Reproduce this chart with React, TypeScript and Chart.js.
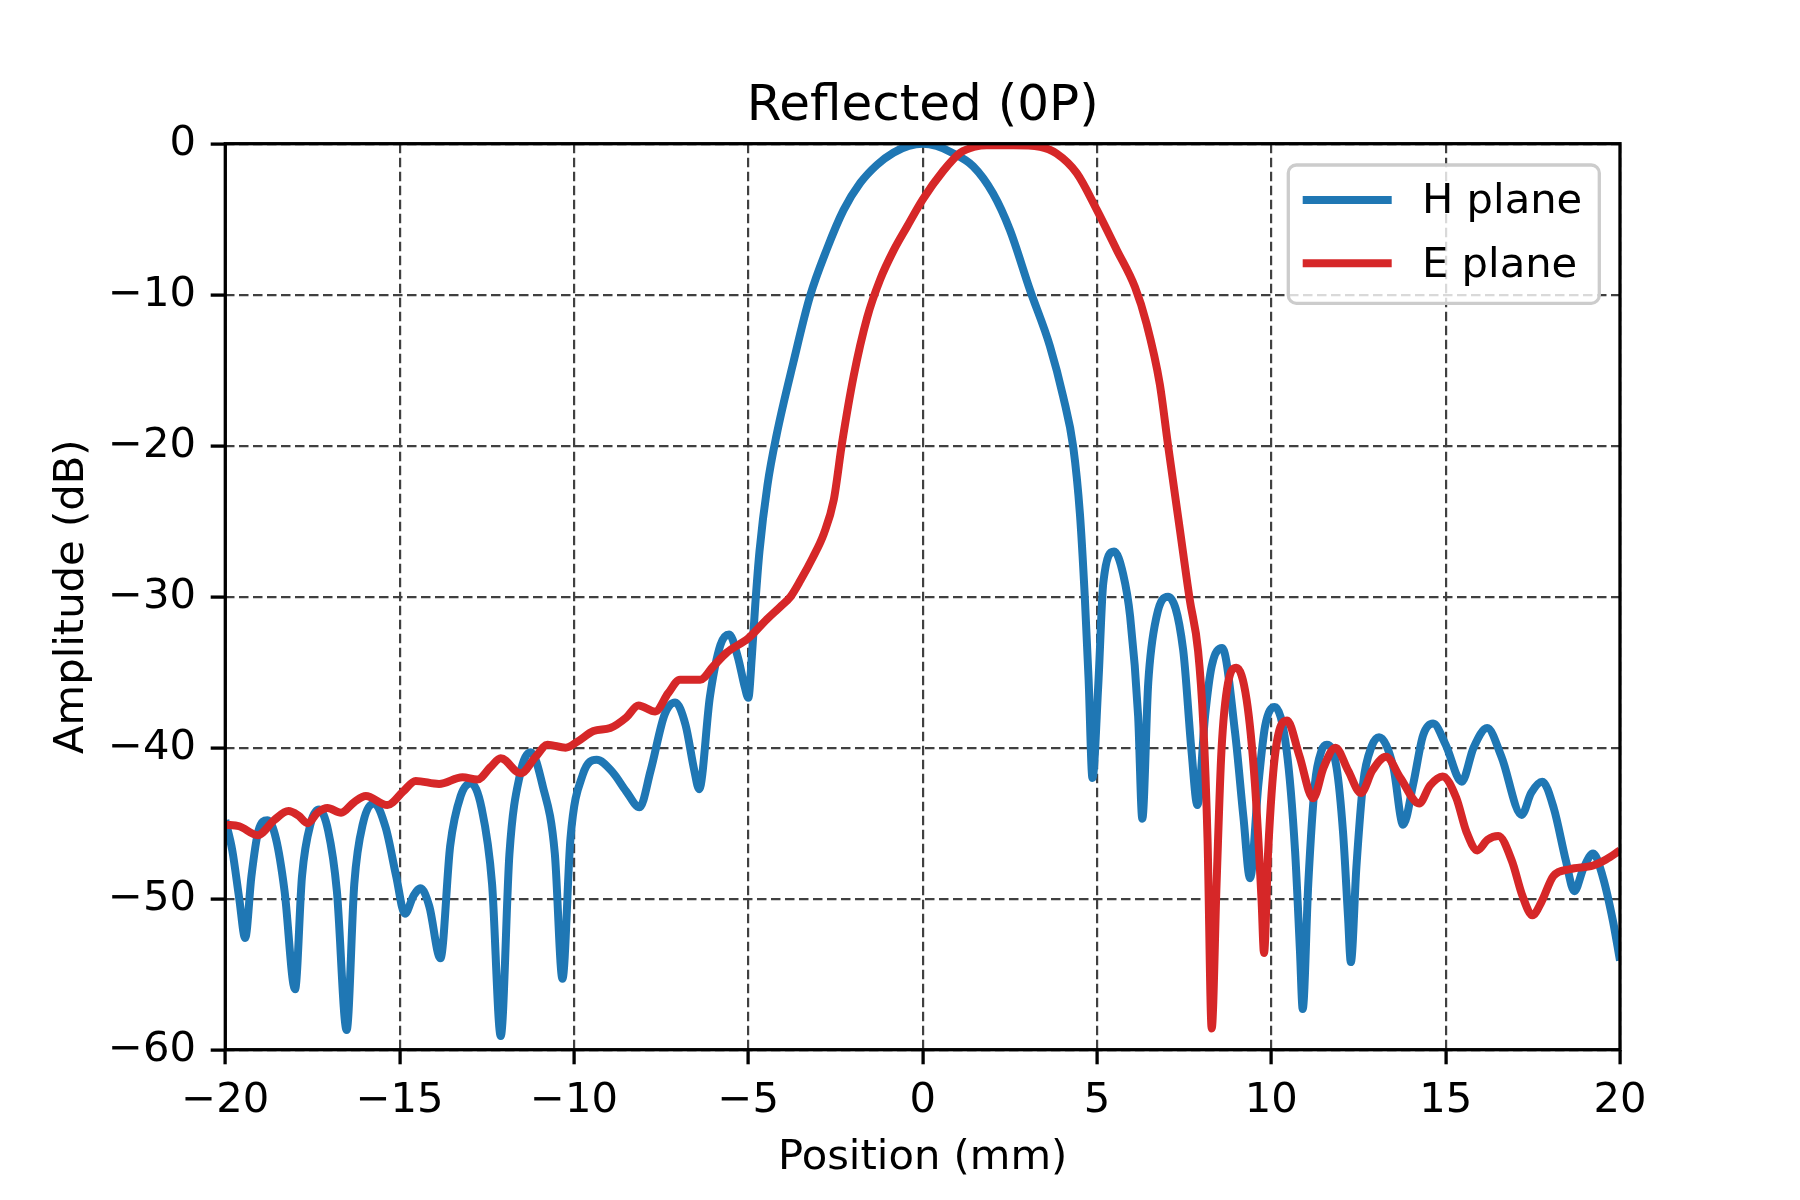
import React, { useEffect, useRef } from 'react';
import Chart from 'chart.js/auto';

// texts
const chartTitle = 'Reflected (0P)';
const xAxisLabel = 'Position (mm)';
const yAxisLabel = 'Amplitude (dB)';
const seriesNames = ['H plane', 'E plane'];
const seriesColors = ['#1f77b4', '#d62728'];

// tick values
const xTicks = [-20, -15, -10, -5, 0, 5, 10, 15, 20];
const yTicks = [0, -10, -20, -30, -40, -50, -60];

// H plane, [position mm, amplitude dB]
const hPlane: [number, number][] = [
  [-20.0, -44.8], [-19.8, -46.8], [-19.6, -50.0], [-19.43, -52.6], [-19.25, -48.5],
  [-19.05, -45.5], [-18.79, -44.8], [-18.55, -46.0], [-18.3, -49.5], [-18.0, -56.0],
  [-17.8, -48.5], [-17.55, -45.0], [-17.31, -44.1], [-17.05, -45.5], [-16.8, -49.5],
  [-16.52, -58.7], [-16.3, -49.0], [-16.05, -45.0], [-15.73, -43.7], [-15.4, -45.3],
  [-15.1, -48.5], [-14.85, -51.0], [-14.6, -49.8], [-14.4, -49.3], [-14.15, -50.5],
  [-13.83, -53.95], [-13.55, -46.5], [-13.25, -43.2], [-12.96, -42.35], [-12.65, -44.0],
  [-12.35, -49.0], [-12.1, -59.1], [-11.85, -47.0], [-11.55, -41.8], [-11.24, -40.3],
  [-10.9, -42.5], [-10.55, -47.0], [-10.33, -55.3], [-10.1, -46.0], [-9.75, -41.8],
  [-9.35, -40.8], [-8.9, -41.6], [-8.5, -42.9], [-8.12, -43.95], [-7.8, -41.5],
  [-7.4, -37.8], [-7.1, -37.0], [-6.8, -38.5], [-6.55, -41.5], [-6.41, -42.75],
  [-6.1, -36.6], [-5.8, -33.2], [-5.55, -32.5], [-5.3, -34.0], [-5.1, -36.0],
  [-5.0, -36.7], [-4.9, -34.0], [-4.8, -30.5], [-4.68, -27.0], [-4.45, -22.6],
  [-4.19, -19.3], [-3.71, -14.5], [-3.23, -10.1], [-2.75, -7.0], [-2.27, -4.4],
  [-1.79, -2.6], [-1.31, -1.4], [-0.84, -0.6], [-0.4, -0.15], [0.0, 0.0],
  [0.4, -0.15], [0.8, -0.55], [1.45, -1.5], [2.02, -3.3], [2.5, -5.7],
  [3.08, -9.7], [3.65, -13.4], [4.03, -16.75], [4.32, -20.1], [4.51, -24.5],
  [4.65, -30.0], [4.76, -35.5], [4.87, -42.0], [5.04, -35.7], [5.18, -29.1],
  [5.49, -27.0], [5.75, -28.5], [5.95, -31.3], [6.18, -37.9], [6.3, -44.7],
  [6.47, -35.7], [6.71, -31.3], [7.04, -30.0], [7.47, -33.5], [7.71, -40.2],
  [7.88, -43.8], [8.1, -37.9], [8.29, -34.6], [8.59, -33.4], [8.96, -39.0],
  [9.2, -44.6], [9.39, -48.65], [9.63, -42.4], [9.82, -38.6], [10.1, -37.3],
  [10.44, -40.2], [10.68, -46.8], [10.82, -53.4], [10.9, -57.3], [11.06, -49.0],
  [11.25, -42.4], [11.44, -40.2], [11.59, -39.8], [11.87, -41.3], [12.06, -45.7],
  [12.2, -51.2], [12.28, -54.2], [12.44, -47.9], [12.63, -42.4], [12.88, -39.9],
  [13.09, -39.3], [13.5, -41.3], [13.78, -45.1], [14.07, -42.4], [14.35, -39.2],
  [14.64, -38.4], [15.0, -39.8], [15.46, -42.25], [15.8, -40.0], [16.19, -38.7],
  [16.6, -40.6], [17.18, -44.45], [17.45, -43.0], [17.77, -42.25], [18.1, -44.0],
  [18.45, -47.5], [18.69, -49.5], [18.95, -48.0], [19.23, -47.0], [19.5, -48.5],
  [19.8, -51.5], [20.0, -54.1],
];

// E plane
const ePlane: [number, number][] = [
  [-20.0, -45.1], [-19.6, -45.2], [-19.07, -45.8], [-18.6, -44.8], [-18.19, -44.2],
  [-17.9, -44.5], [-17.64, -45.0], [-17.35, -44.3], [-17.07, -44.0], [-16.68, -44.3],
  [-16.3, -43.6], [-15.97, -43.2], [-15.35, -43.8], [-14.9, -42.9], [-14.54, -42.2],
  [-13.87, -42.4], [-13.2, -41.95], [-12.77, -42.1], [-12.4, -41.3], [-12.1, -40.7],
  [-11.53, -41.7], [-11.1, -40.6], [-10.76, -39.8], [-10.24, -40.0], [-9.9, -39.6],
  [-9.44, -38.9], [-8.96, -38.7], [-8.5, -38.0], [-8.15, -37.2], [-7.67, -37.6],
  [-7.3, -36.4], [-6.96, -35.5], [-6.38, -35.5], [-6.0, -34.6], [-5.62, -33.7],
  [-5.0, -32.75], [-4.47, -31.5], [-4.1, -30.7], [-3.79, -30.0], [-3.5, -28.9],
  [-3.15, -27.4], [-2.83, -25.8], [-2.55, -23.6], [-2.31, -19.8], [-1.98, -15.4],
  [-1.59, -11.5], [-1.22, -9.0], [-0.84, -7.1], [-0.45, -5.5], [0.0, -3.7],
  [0.59, -1.8], [1.08, -0.6], [1.5, -0.2], [1.84, -0.1],
  [2.6, -0.1], [3.36, -0.2], [3.84, -0.65], [4.42, -1.95], [5.0, -4.4],
  [5.56, -7.0], [6.09, -9.5], [6.42, -11.9], [6.8, -15.9], [7.04, -20.0],
  [7.38, -25.6], [7.66, -30.2], [7.9, -33.6], [8.05, -38.5], [8.17, -46.0],
  [8.29, -58.6], [8.43, -49.0], [8.57, -40.2], [8.76, -35.7], [9.0, -34.7],
  [9.29, -36.8], [9.53, -42.4], [9.72, -50.1], [9.79, -53.6], [9.91, -46.8],
  [10.1, -40.6], [10.45, -38.2], [10.8, -40.5], [11.2, -43.35], [11.5, -41.3],
  [11.84, -40.0], [12.2, -41.5], [12.57, -43.0], [12.9, -41.5], [13.29, -40.6],
  [13.7, -42.0], [14.24, -43.7], [14.55, -42.5], [14.91, -41.9], [15.3, -43.3],
  [15.6, -45.6], [15.91, -46.8], [16.2, -46.1], [16.51, -45.85], [16.9, -47.5],
  [17.2, -49.8], [17.49, -51.1], [17.75, -50.2], [18.09, -48.5], [18.56, -48.05],
  [19.23, -47.8], [19.6, -47.4], [20.0, -46.8],
];

const WIDTH = 1800;
const HEIGHT = 1200;
// axes box, matplotlib-like placement
const AX_LEFT = 225.3;
const AX_RIGHT = 1620;
const AX_TOP = 143.7;
const AX_BOTTOM = 1049.7;

const FONT = '"DejaVu Sans", sans-serif';
const TICK_FONT = 41.7;
const TITLE_FONT = 50;
const TICK_LEN = 14.6;
const SPINE = 3.3;

const fmt = (v: number) => (v < 0 ? '\u2212' + Math.abs(v) : String(v));

// spines + legend + titles
const decorPlugin = {
  id: 'decor',
  afterDatasetsDraw(chart: any) {
    const { ctx, chartArea: a } = chart;
    ctx.save();
    ctx.strokeStyle = '#000';
    ctx.lineWidth = SPINE;
    ctx.strokeRect(a.left, a.top, a.right - a.left, a.bottom - a.top);

    // legend box
    const bx = 1288.3, by = 165, bw = 311, bh = 138.3, r = 8;
    ctx.beginPath();
    ctx.roundRect(bx, by, bw, bh, r);
    ctx.fillStyle = 'rgba(255,255,255,0.8)';
    ctx.fill();
    ctx.strokeStyle = '#cccccc';
    ctx.lineWidth = SPINE;
    ctx.stroke();

    ctx.font = `${TICK_FONT}px ${FONT}`;
    ctx.textAlign = 'left';
    ctx.textBaseline = 'alphabetic';
    seriesNames.forEach((name, i) => {
      const y = 200 + i * 63.3;
      ctx.strokeStyle = seriesColors[i];
      ctx.lineWidth = 8;
      ctx.lineCap = 'square';
      ctx.beginPath();
      ctx.moveTo(1306.7, y);
      ctx.lineTo(1387.7, y);
      ctx.stroke();
      ctx.fillStyle = '#000';
      ctx.fillText(name, 1422, y + 13.3);
    });
    ctx.restore();
  },
  afterDraw(chart: any) {
    const { ctx, chartArea: a } = chart;
    const cx = (a.left + a.right) / 2;
    ctx.save();
    ctx.fillStyle = '#000';
    ctx.textAlign = 'center';
    ctx.textBaseline = 'alphabetic';
    ctx.font = `${TITLE_FONT}px ${FONT}`;
    ctx.fillText(chartTitle, cx, a.top - 24);
    ctx.font = `${TICK_FONT}px ${FONT}`;
    ctx.fillText(xAxisLabel, cx, 1169);
    ctx.translate(82.7, (a.top + a.bottom) / 2);
    ctx.rotate(-Math.PI / 2);
    ctx.fillText(yAxisLabel, 0, 0);
    ctx.restore();
  },
};

const App: React.FC = () => {
  const canvasRef = useRef<HTMLCanvasElement>(null);

  useEffect(() => {
    if (!canvasRef.current) return;
    const ctx = canvasRef.current.getContext('2d');
    if (!ctx) return;

    const gridOpts = {
      color: '#404040',
      lineWidth: 2.2,
      drawTicks: true,
      tickLength: TICK_LEN,
      tickWidth: SPINE,
      tickColor: '#000',
      borderDash: [9.5, 4.5],
    };
    const borderOpts = { display: false, dash: [9.5, 4.5] };
    const tickFont = { family: FONT, size: TICK_FONT, lineHeight: 1.2 };

    const chart = new Chart(ctx, {
      type: 'line',
      data: {
        datasets: [
          {
            label: seriesNames[0],
            data: hPlane.map(([x, y]) => ({ x, y })),
            borderColor: seriesColors[0],
            order: 2,
          },
          {
            label: seriesNames[1],
            data: ePlane.map(([x, y]) => ({ x, y })),
            borderColor: seriesColors[1],
            order: 1,
          },
        ].map((d) => ({
          ...d,
          borderWidth: 8,
          pointRadius: 0,
          fill: false,
          cubicInterpolationMode: 'monotone' as const,
          borderJoinStyle: 'round' as const,
          clip: 0,
        })),
      },
      options: {
        animation: false,
        responsive: false,
        devicePixelRatio: 1,
        layout: { padding: { left: 0, top: AX_TOP, right: WIDTH - AX_RIGHT, bottom: 0 } },
        plugins: {
          legend: { display: false },
          title: { display: false },
          tooltip: { enabled: false },
        },
        scales: {
          x: {
            type: 'linear',
            min: -20,
            max: 20,
            afterBuildTicks: (s: any) => {
              s.ticks = xTicks.map((value) => ({ value }));
            },
            afterFit: (s: any) => {
              s.height = HEIGHT - AX_BOTTOM;
            },
            ticks: {
              autoSkip: false,
              maxRotation: 0,
              padding: 12,
              color: '#000',
              font: tickFont,
              callback: (v: any) => fmt(Number(v)),
            },
            grid: gridOpts,
            border: borderOpts,
          },
          y: {
            type: 'linear',
            min: -60,
            max: 0,
            afterBuildTicks: (s: any) => {
              s.ticks = yTicks.map((value) => ({ value }));
            },
            afterFit: (s: any) => {
              s.width = AX_LEFT;
            },
            ticks: {
              autoSkip: false,
              padding: TICK_LEN,
              color: '#000',
              font: tickFont,
              callback: (v: any) => fmt(Number(v)),
            },
            grid: gridOpts,
            border: borderOpts,
          },
        },
      } as any,
      plugins: [decorPlugin],
    });

    return () => {
      chart.destroy();
    };
  }, []);

  return (
    <div style={{ position: 'absolute', left: 0, top: 0, width: WIDTH, height: HEIGHT, background: '#fff' }}>
      <canvas ref={canvasRef} width={WIDTH} height={HEIGHT} style={{ width: WIDTH, height: HEIGHT }} />
    </div>
  );
};

export default App;
